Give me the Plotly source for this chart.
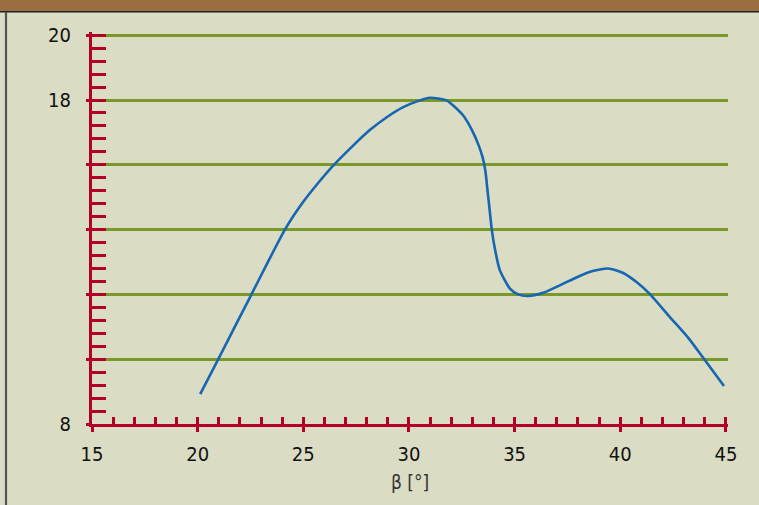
import plotly.graph_objects as go

# Data
beta = [20.12, 20.99, 22.53, 24.13, 24.99, 25.78, 26.35, 27.37, 28.16, 28.95, 29.73,
        30.52, 30.99, 31.78, 32.56, 33.0, 33.3, 33.5, 33.62, 33.72, 33.82, 33.92, 34.07,
        34.3, 34.78, 35.17, 35.64, 36.35, 37.14, 38.08, 38.7, 39.43, 40.14,
        40.77, 41.37, 42.35, 43.22, 43.95, 44.91]
value = [8.92, 10.02, 11.98, 14.0, 14.85, 15.5, 15.93, 16.6, 17.08, 17.47, 17.78,
         17.99, 18.07, 17.99, 17.53, 17.05, 16.6, 16.2, 15.8, 15.2, 14.6, 14.0, 13.4,
         12.75, 12.18, 12.0, 11.95, 12.05, 12.28, 12.57, 12.72, 12.8, 12.66,
         12.38, 12.03, 11.3, 10.66, 10.02, 9.17]

x_major = [15, 20, 25, 30, 35, 40, 45]
x_labels = ["15", "20", "25", "30", "35", "40", "45"]
y_major = [8, 10, 12, 14, 16, 18, 20]
y_labels = ["8", "", "", "", "", "18", "20"]
x_title = "β [°]"

RED = "rgb(178,0,38)"
GREEN = "rgb(122,153,40)"
BLUE = "rgb(22,102,178)"
BG = "rgb(219,220,196)"
BROWN = "rgb(155,110,66)"
FONT = "Liberation Sans Narrow, DejaVu Sans Condensed, Arial Narrow, sans-serif"

W, H = 759, 505
ML, MR, MT, MB = 92, 31, 32, 81
PW, PH = W - ML - MR, H - MT - MB


def px2paper_x(px):
    return (px - ML) / PW


def px2paper_y(py):
    return (H - MB - py) / PH


fig = go.Figure()
fig.add_trace(go.Scatter(x=beta, y=value, mode="lines",
                         line=dict(color=BLUE, width=2.6, shape="spline", smoothing=0.6),
                         hoverinfo="skip", showlegend=False))
# invisible trace to activate the overlay axes (outer tick halves)
fig.add_trace(go.Scatter(x=[None], y=[None], xaxis="x2", yaxis="y2",
                         mode="markers", showlegend=False, hoverinfo="skip"))

xr = [15, 45.1]
yr = [8, 20.1]

fig.update_layout(
    width=W, height=H,
    margin=dict(l=ML, r=MR, t=MT, b=MB, autoexpand=False),
    paper_bgcolor=BG, plot_bgcolor=BG,
    font=dict(family=FONT, size=20, color="#111"),
    xaxis=dict(range=xr, showgrid=False, zeroline=False, showline=True,
               linecolor=RED, linewidth=3, tickmode="array", tickvals=x_major,
               ticktext=x_labels, ticks="inside", ticklen=7, tickwidth=2.5,
               tickcolor=RED, ticklabelstandoff=10,
               minor=dict(dtick=1, tick0=15, ticks="inside", ticklen=7, tickwidth=2.5,
                          tickcolor=RED, showgrid=False),
               title=dict(text=x_title, font=dict(size=19, color="#333"), standoff=11),
               tickfont=dict(size=20, color="#111")),
    yaxis=dict(range=yr, showgrid=True, gridcolor=GREEN, gridwidth=2.5, zeroline=False,
               showline=True, linecolor=RED, linewidth=3, tickmode="array",
               tickvals=y_major, ticktext=y_labels, ticks="inside", ticklen=14,
               tickwidth=2.5, tickcolor=RED, ticklabelstandoff=14,
               minor=dict(dtick=0.4, tick0=8, ticks="inside", ticklen=14, tickwidth=2.5,
                          tickcolor=RED, showgrid=False),
               tickfont=dict(size=20, color="#111")),
    xaxis2=dict(range=xr, overlaying="x", showgrid=False, zeroline=False,
                showline=False, tickmode="array", tickvals=x_major, showticklabels=False,
                ticks="outside", ticklen=7, tickwidth=2.5, tickcolor=RED, side="bottom"),
    yaxis2=dict(range=yr, overlaying="y", showgrid=False, zeroline=False, showline=False,
                tickmode="array", tickvals=y_major, showticklabels=False,
                ticks="outside", ticklen=5, tickwidth=2.5, tickcolor=RED, side="left"),
    shapes=[
        dict(type="rect", xref="paper", yref="paper",
             x0=px2paper_x(0), x1=px2paper_x(W), y0=px2paper_y(11), y1=px2paper_y(0),
             fillcolor=BROWN, line=dict(width=0), layer="above"),
        dict(type="line", xref="paper", yref="paper",
             x0=px2paper_x(0), x1=px2paper_x(W), y0=px2paper_y(11.8), y1=px2paper_y(11.8),
             line=dict(color="#222", width=1.6), layer="above"),
        dict(type="line", xref="paper", yref="paper",
             x0=px2paper_x(6), x1=px2paper_x(6), y0=px2paper_y(12), y1=px2paper_y(H),
             line=dict(color="#555", width=2.2), layer="above"),
    ],
)

fig.write_html("out.html", config={"displayModeBar": False},
               post_script="document.body.style.margin='0';document.body.style.padding='0';")
